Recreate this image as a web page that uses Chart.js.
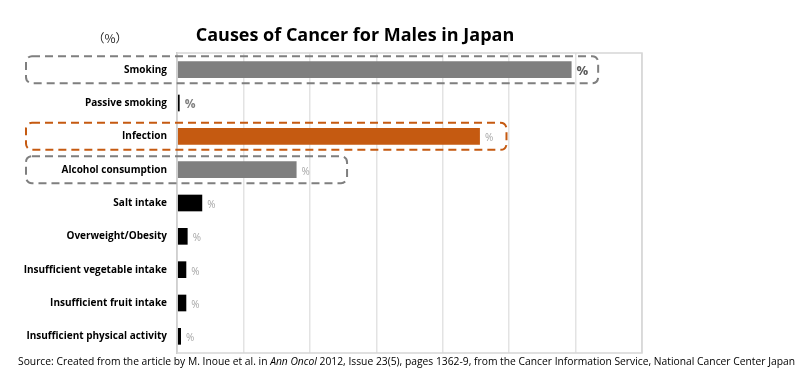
<!DOCTYPE html>
<html>
<head>
<meta charset="utf-8">
<script src="https://cdn.jsdelivr.net/npm/chart.js@4.4.1/dist/chart.umd.min.js"></script>
<style>
  html, body { margin: 0; padding: 0; background: #fff; }
  #wrap { width: 800px; height: 372px; position: relative; }
</style>
</head>
<body>
<div id="wrap"><canvas id="causes"></canvas></div>
<script>
/* Attributable fractions of cancer, males, Japan (Inoue et al. 2012) */
const categories = [
  'Smoking', 'Passive smoking', 'Infection', 'Alcohol consumption', 'Salt intake',
  'Overweight/Obesity', 'Insufficient vegetable intake', 'Insufficient fruit intake',
  'Insufficient physical activity'
];
const shares = [29.7, 0.2, 22.8, 9.0, 1.9, 0.8, 0.7, 0.7, 0.3];
const axisMax = 35;
const axisStep = 5;

// highlighted rows and where their dashed frame stops (in % units)
const frameRows = [0, 2, 3];
const frameEnds = [31.7, 24.8, 12.8];

const GRAY = '#7f7f7f', ORANGE = '#c55a11', BLACK = '#000000';
const barColors = [GRAY, BLACK, ORANGE, GRAY, BLACK, BLACK, BLACK, BLACK, BLACK];
const frameColors = [GRAY, ORANGE, GRAY];
const FONT = '"Open Sans", "Noto Sans", sans-serif';

function drawRoundDash(ctx, x, y, w, h, r) {
  ctx.beginPath();
  ctx.moveTo(x + r, y);
  ctx.lineTo(x + w - r, y);
  ctx.arcTo(x + w, y, x + w, y + r, r);
  ctx.lineTo(x + w, y + h - r);
  ctx.arcTo(x + w, y + h, x + w - r, y + h, r);
  ctx.lineTo(x + r, y + h);
  ctx.arcTo(x, y + h, x, y + h - r, r);
  ctx.lineTo(x, y + r);
  ctx.arcTo(x, y, x + r, y, r);
  ctx.closePath();
  ctx.stroke();
}

const decor = {
  id: 'decor',
  afterDatasetsDraw(chart) {
    const { ctx, chartArea: a, scales: { x } } = chart;
    const bars = chart.getDatasetMeta(0).data;
    ctx.save();

    // plot frame
    ctx.strokeStyle = '#d6d6d6';
    ctx.lineWidth = 1.5;
    ctx.strokeRect(a.left, a.top, a.right - a.left, a.bottom - a.top);

    // dashed highlight frames
    ctx.lineWidth = 2;
    ctx.setLineDash([8, 5]);
    frameRows.forEach(function (row, i) {
      const b = bars[row];
      const right = x.getPixelForValue(frameEnds[i]);
      ctx.strokeStyle = frameColors[i];
      drawRoundDash(ctx, 26, b.y - 13.5, right - 26, 27, 6);
    });
    ctx.setLineDash([]);

    // "%" marks after bars
    ctx.textBaseline = 'middle';
    ctx.textAlign = 'left';
    bars.forEach(function (b, i) {
      if (i === 0) { ctx.font = 'bold 13px ' + FONT; ctx.fillStyle = '#595959'; }
      else if (i === 1) { ctx.font = 'bold 12px ' + FONT; ctx.fillStyle = '#7f7f7f'; }
      else { ctx.font = '10px ' + FONT; ctx.fillStyle = '#a6a6a6'; }
      ctx.fillText('%', b.x + 5, b.y + 2);
    });

    // title and unit
    ctx.fillStyle = '#000';
    ctx.textAlign = 'center';
    ctx.font = 'bold 18px ' + FONT;
    ctx.fillText('Causes of Cancer for Males in Japan', 355, 36);
    ctx.font = '12px "Noto Sans CJK JP", ' + FONT;
    ctx.fillStyle = '#262626';
    ctx.fillText('（%）', 110, 38);

    // source line, fitted between x=18 and x=797
    const p1 = 'Source: Created from the article by M. Inoue et al. in ';
    const p2 = 'Ann Oncol';
    const p3 = ' 2012, Issue 23(5), pages 1362-9, from the Cancer Information Service, National Cancer Center Japan';
    ctx.textAlign = 'left';
    ctx.fillStyle = '#000';
    let size = 11;
    let w1, w2, w3;
    for (;;) {
      ctx.font = size + 'px ' + FONT; w1 = ctx.measureText(p1).width; w3 = ctx.measureText(p3).width;
      ctx.font = 'italic ' + size + 'px ' + FONT; w2 = ctx.measureText(p2).width;
      if (w1 + w2 + w3 <= 779 || size < 8) break;
      size -= 0.05;
    }
    const sx = 18;
    ctx.font = size + 'px ' + FONT; ctx.fillText(p1, sx, 362);
    ctx.font = 'italic ' + size + 'px ' + FONT; ctx.fillText(p2, sx + w1, 362);
    ctx.font = size + 'px ' + FONT; ctx.fillText(p3, sx + w1 + w2, 362);

    ctx.restore();
  }
};

new Chart(document.getElementById('causes'), {
  type: 'bar',
  data: {
    labels: categories,
    datasets: [{
      data: shares,
      backgroundColor: barColors,
      barPercentage: 0.5,
      categoryPercentage: 1
    }]
  },
  options: {
    indexAxis: 'y',
    responsive: true,
    maintainAspectRatio: false,
    animation: false,
    layout: { padding: { top: 53, right: 158, bottom: 19, left: 0 } },
    plugins: { legend: { display: false }, tooltip: { enabled: false } },
    scales: {
      x: {
        min: 0,
        max: axisMax,
        ticks: { display: false, stepSize: axisStep },
        grid: { color: '#e3e3e3', lineWidth: 1.5, drawTicks: false },
        border: { display: false },
        afterFit: (s) => { s.height = 0; }
      },
      y: {
        grid: { display: false, drawTicks: false },
        border: { color: '#bfbfbf', width: 1.5 },
        ticks: { color: '#000', font: { family: FONT, size: 10, weight: 'bold' }, padding: 10 },
        afterFit: (s) => { s.width = 177; }
      }
    }
  },
  plugins: [decor]
});
</script>
</body>
</html>
